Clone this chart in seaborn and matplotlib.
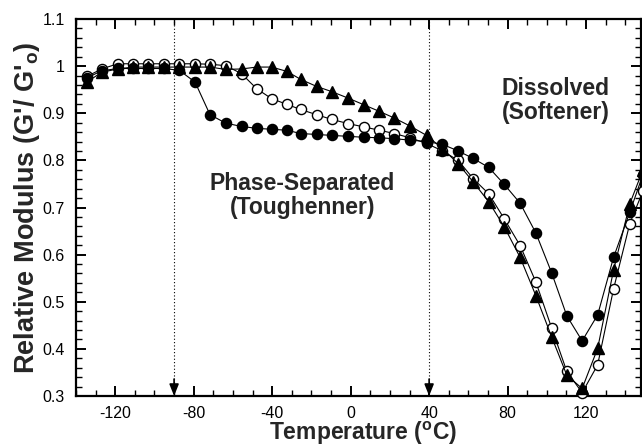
import numpy as np
import pandas as pd
import matplotlib
matplotlib.use("Agg")
import matplotlib.pyplot as plt
from matplotlib.ticker import MultipleLocator, FuncFormatter
import seaborn as sns

# ---- data ----
temperature_c = [-134.5, -126.9, -118.7, -110.7, -103.1, -95.1, -87.3, -79.3, -71.7,
                 -63.7, -55.6, -47.9, -40.3, -32.6, -25.5, -17.4, -9.7, -1.2, 6.7,
                 14.6, 22.2, 30.2, 38.7, 46.8, 54.8, 62.5, 70.4, 78.3, 86.4, 94.4,
                 102.4, 110.2, 118.0, 125.9, 134.0, 142.3, 149.0]

filled_circles = [0.975, 0.990, 0.995, 0.995, 0.995, 0.995, 0.991, 0.966, 0.897,
                  0.879, 0.872, 0.868, 0.866, 0.864, 0.857, 0.855, 0.853, 0.851, 0.849,
                  0.848, 0.846, 0.843, 0.840, 0.834, 0.820, 0.804, 0.785, 0.749, 0.709,
                  0.646, 0.562, 0.470, 0.417, 0.472, 0.594, 0.690, 0.770]

open_circles = [0.978, 0.994, 1.005, 1.005, 1.005, 1.005, 1.005, 1.005, 1.004,
                1.001, 0.984, 0.952, 0.931, 0.919, 0.908, 0.897, 0.887, 0.878, 0.871,
                0.864, 0.857, 0.848, 0.836, 0.820, 0.800, 0.761, 0.729, 0.676, 0.619,
                0.542, 0.445, 0.352, 0.307, 0.366, 0.527, 0.666, 0.735]

triangles = [0.966, 0.987, 0.994, 0.998, 0.998, 0.998, 0.998, 0.998, 0.998,
             0.993, 0.994, 0.998, 0.998, 0.989, 0.972, 0.957, 0.946, 0.932, 0.918,
             0.904, 0.890, 0.873, 0.853, 0.825, 0.793, 0.754, 0.712, 0.659, 0.594,
             0.513, 0.426, 0.344, 0.316, 0.401, 0.567, 0.708, 0.780]

transition_temps = [-90, 40]
x_ticks = [-120, -80, -40, 0, 40, 80, 120]
y_ticks = [0.3, 0.4, 0.5, 0.6, 0.7, 0.8, 0.9, 1.0, 1.1]

# ---- style ----
sns.set_style("ticks")
plt.rcParams["font.family"] = ["Liberation Sans", "DejaVu Sans"]
plt.rcParams["axes.unicode_minus"] = False
plt.rcParams["mathtext.fontset"] = "custom"
plt.rcParams["mathtext.rm"] = "Liberation Sans"
plt.rcParams["mathtext.bf"] = "Liberation Sans:bold"
plt.rcParams["mathtext.it"] = "Liberation Sans:italic"

fig = plt.figure(figsize=(6.42, 4.48), dpi=100)
ax = fig.add_axes([76 / 642, 52 / 448, 565 / 642, 377 / 448])

df = pd.DataFrame({"T": temperature_c, "filled": filled_circles,
                   "open": open_circles, "tri": triangles})

common = dict(color="black", linewidth=0.8, markeredgecolor="black",
              markeredgewidth=1.0, sort=False, clip_on=False, ax=ax)
sns.lineplot(data=df, x="T", y="open", marker="o", markersize=7.3,
             markerfacecolor="white", zorder=3, **common)
sns.lineplot(data=df, x="T", y="filled", marker="o", markersize=7.3,
             markerfacecolor="black", zorder=4, **common)
sns.lineplot(data=df, x="T", y="tri", marker="^", markersize=8.5,
             markerfacecolor="black", zorder=5, **common)

# transition markers
for t in transition_temps:
    ax.plot([t, t], [0.3, 1.1], linestyle=(0, (1, 2)), color="black",
            linewidth=0.8, zorder=1)
    ax.annotate("", xy=(t, 0.3), xytext=(t, 0.336),
                arrowprops=dict(arrowstyle="-|>,head_length=0.7,head_width=0.28",
                                color="black", lw=1.2, shrinkA=0, shrinkB=0),
                zorder=2)

ax.text(-24.7, 0.726, "Phase-Separated\n(Toughenner)", ha="center", va="center",
        fontsize=16.5, fontweight="bold", linespacing=1.05)
ax.text(104.4, 0.927, "Dissolved\n(Softener)", ha="center", va="center",
        fontsize=16.5, fontweight="bold", linespacing=1.05)

ax.set_xlim(-140, 148)
ax.set_ylim(0.3, 1.1)
ax.set_xticks(x_ticks)
ax.set_yticks(y_ticks)
ax.xaxis.set_minor_locator(MultipleLocator(10))
ax.yaxis.set_minor_locator(MultipleLocator(0.02))
ax.yaxis.set_major_formatter(FuncFormatter(lambda v, p: f"{v:g}"))
ax.tick_params(which="both", direction="in", top=True, right=True,
               labelsize=11.5, colors="black")
ax.tick_params(which="major", length=7, width=1.4, pad=8)
ax.tick_params(axis="x", which="major", pad=7)
ax.tick_params(which="minor", length=4, width=1.0)
for s in ax.spines.values():
    s.set_linewidth(1.6)
    s.set_color("black")

ax.set_xlabel(r"Temperature ($^\mathbf{o}$C)", fontsize=16.5, fontweight="bold",
              labelpad=0)
ax.xaxis.set_label_coords((363.5 - 76) / 565, -0.062)
ax.xaxis.label.set_va("top")
ax.set_ylabel(r"Relative Modulus (G'/ G'$_\mathbf{o}$)", fontsize=19.5,
              fontweight="bold", labelpad=0.5)

fig.savefig("out.png", dpi=100)
